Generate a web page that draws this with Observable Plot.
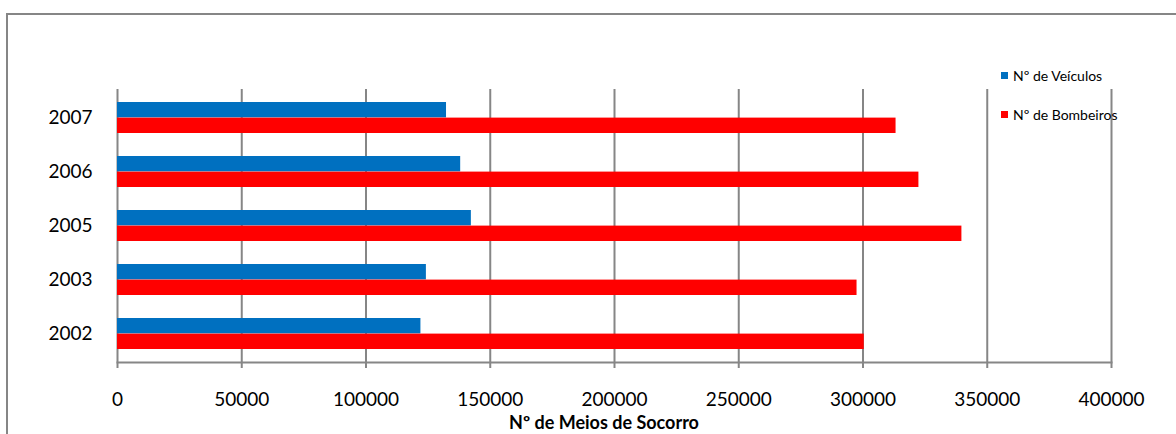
<!DOCTYPE html>
<html>
<head>
<meta charset="utf-8">
<script src="https://cdn.jsdelivr.net/npm/d3@7"></script>
<script src="https://cdn.jsdelivr.net/npm/@observablehq/plot@0.6"></script>
<style>
  html, body { margin: 0; padding: 0; background: #fff; }
  #wrap { position: relative; width: 1176px; height: 434px; overflow: hidden; font-family: Lato, sans-serif; }
  #border { position: absolute; left: 6px; top: 13px; width: 3000px; height: 3000px; border-left: 2px solid #868686; border-top: 2px solid #868686; }
  #chart { position: absolute; left: 0; top: 0; }
  .legend-item { position: absolute; left: 1001px; display: flex; align-items: center; font-size: 14px; color: #000; white-space: nowrap; }
  .legend-item .sw { width: 7px; height: 7px; margin-right: 5px; }
  #xtitle { position: absolute; left: 404px; width: 400px; top: 411px; text-align: center; font-weight: bold; font-size: 18px; color: #000; }
</style>
</head>
<body>
<div id="wrap">
  <div id="border"></div>
  <div id="chart"></div>
  <div id="legend"></div>
  <div id="xtitle"></div>
</div>
<script>
const years = ["2007", "2006", "2005", "2003", "2002"];
const veiculos = [132400, 138100, 142400, 124300, 122100];
const bombeiros = [313300, 322500, 339800, 297600, 300500];
const seriesNames = ["Nº de Veículos", "Nº de Bombeiros"];
const seriesColors = ["#0070C0", "#FF0000"];
const xTitle = "Nº de Meios de Socorro";

const rowsV = years.map((y, i) => ({year: y, value: veiculos[i]}));
const rowsB = years.map((y, i) => ({year: y, value: bombeiros[i]}));

const half = 15.6;
const plot = Plot.plot({
  width: 1176,
  height: 434,
  marginLeft: 117,
  marginRight: 65,
  marginTop: 89,
  marginBottom: 72,
  style: {fontFamily: "Lato, sans-serif", fontSize: "19px", background: "transparent", color: "#000"},
  x: {domain: [0, 400000], ticks: 8, tickFormat: "d"},
  y: {domain: years, paddingInner: 0.43, paddingOuter: 0.215},
  marks: [
    Plot.gridX({ticks: 8, stroke: "#868686", strokeOpacity: 1, strokeWidth: 2}),
    Plot.frame({anchor: "bottom", stroke: "#868686", strokeWidth: 2}),
    Plot.barX(rowsV, {y: "year", x: "value", fill: seriesColors[0], insetBottom: half}),
    Plot.barX(rowsB, {y: "year", x: "value", fill: seriesColors[1], insetTop: half}),
    Plot.axisX({ticks: 8, tickFormat: "d", tickSize: 6, tickPadding: 24, stroke: "#868686", strokeWidth: 2, label: null}),
    Plot.axisY({tickSize: 0, tickPadding: 25, label: null})
  ]
});
document.getElementById("chart").appendChild(plot);

const legend = document.getElementById("legend");
const legendTops = [67, 106];
seriesNames.forEach((name, i) => {
  const item = document.createElement("div");
  item.className = "legend-item";
  item.style.top = legendTops[i] + "px";
  const sw = document.createElement("span");
  sw.className = "sw";
  sw.style.background = seriesColors[i];
  const t = document.createElement("span");
  t.textContent = name;
  item.appendChild(sw);
  item.appendChild(t);
  legend.appendChild(item);
});
document.getElementById("xtitle").textContent = xTitle;
</script>
</body>
</html>
